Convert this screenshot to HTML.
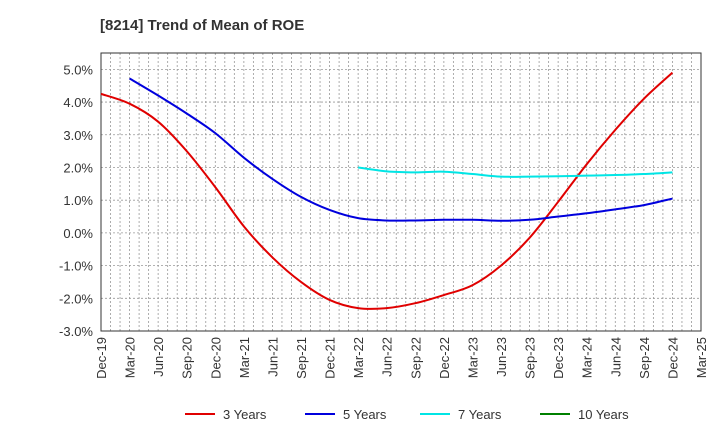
<!DOCTYPE html>
<html><head><meta charset="utf-8"><style>
body{margin:0;background:#fff;font-family:"Liberation Sans",Arial,sans-serif}
</style></head><body>
<svg id="c" width="720" height="440" xmlns="http://www.w3.org/2000/svg">
<text x="100" y="30" font-size="15" font-weight="bold" fill="#333">[8214]  Trend of Mean of ROE</text>
<g id="grid"></g><g id="axes"></g><g id="series"></g><g id="legend"></g>
</svg>
<script>
const xLabels=["Dec-19","Mar-20","Jun-20","Sep-20","Dec-20","Mar-21","Jun-21","Sep-21","Dec-21","Mar-22","Jun-22","Sep-22","Dec-22","Mar-23","Jun-23","Sep-23","Dec-23","Mar-24","Jun-24","Sep-24","Dec-24","Mar-25"];
const yTicks=[5,4,3,2,1,0,-1,-2,-3];
const y3=[4.25,3.95,3.4,2.5,1.4,0.2,-0.75,-1.5,-2.05,-2.3,-2.3,-2.15,-1.9,-1.6,-1.0,-0.15,0.95,2.1,3.15,4.1,4.9];
const y5=[null,4.72,4.2,3.65,3.05,2.3,1.65,1.1,0.7,0.45,0.38,0.38,0.4,0.4,0.37,0.4,0.5,0.6,0.72,0.85,1.05];
const y7=[null,null,null,null,null,null,null,null,null,2.0,1.88,1.85,1.87,1.8,1.72,1.72,1.73,1.75,1.77,1.8,1.85];
const y10=[];
const L=101,R=701,T=53,B=331,ymax=5.5,ymin=-3;
const X=i=>L+i*(R-L)/21, Xm=m=>L+m*(R-L)/63;
const Y=v=>B-(v-ymin)*(B-T)/(ymax-ymin);
const NS="http://www.w3.org/2000/svg";
function mk(p,t,a){const e=document.createElementNS(NS,t);for(const k in a)e.setAttribute(k,a[k]);p.appendChild(e);return e;}
const g=document.getElementById('grid'),ax=document.getElementById('axes'),s=document.getElementById('series'),lg=document.getElementById('legend');
for(let m=1;m<63;m++){const l=mk(g,'line',{x1:Xm(m),x2:Xm(m),y1:T,y2:B,stroke:'#999','stroke-dasharray':'2,2','stroke-width':0.8});

}
yTicks.forEach(v=>{const l=mk(g,'line',{x1:L,x2:R,y1:Y(v),y2:Y(v),stroke:'#999','stroke-dasharray':'2,2','stroke-width':0.8});


const t=mk(ax,'text',{x:L-8,y:Y(v)+5,'text-anchor':'end','font-size':13,fill:'#333'});t.textContent=v.toFixed(1)+'%';

});
const fr=mk(ax,'rect',{x:L,y:T,width:R-L,height:B-T,fill:'none',stroke:'#333','stroke-width':1});


xLabels.forEach((lb,i)=>{const t=mk(ax,'text',{transform:`translate(${X(i)+5},${B+6}) rotate(-90)`,'text-anchor':'end','font-size':13,fill:'#333'});t.textContent=lb;

});
function path(arr){const p=[];arr.forEach((v,i)=>{if(v!=null)p.push([X(i),Y(v)]);});if(p.length<2)return '';
let d=`M${p[0][0]},${p[0][1]}`;for(let i=0;i<p.length-1;i++){const p0=p[i-1]||p[i],p1=p[i],p2=p[i+1],p3=p[i+2]||p2;
d+=` C${p1[0]+(p2[0]-p0[0])/6},${p1[1]+(p2[1]-p0[1])/6} ${p2[0]-(p3[0]-p1[0])/6},${p2[1]-(p3[1]-p1[1])/6} ${p2[0]},${p2[1]}`;}return d;}
[[y3,'#e00000','series-3-years'],[y5,'#0000dd','series-5-years'],[y7,'#00e5e5','series-7-years'],[y10,'#008000','series-10-years']].forEach(([a,c,n])=>{
const d=path(a);if(!d)return;const e=mk(s,'path',{d,fill:'none',stroke:c,'stroke-width':2});

});
[['3 Years','#e00000',185],['5 Years','#0000dd',305],['7 Years','#00e5e5',420],['10 Years','#008000',540]].forEach(([t,c,x])=>{
const gg=mk(lg,'g',{});


mk(gg,'line',{x1:x,x2:x+30,y1:414,y2:414,stroke:c,'stroke-width':2});
const tx=mk(gg,'text',{x:x+38,y:419,'font-size':13,fill:'#333'});tx.textContent=t;});
</script>
</body></html>
